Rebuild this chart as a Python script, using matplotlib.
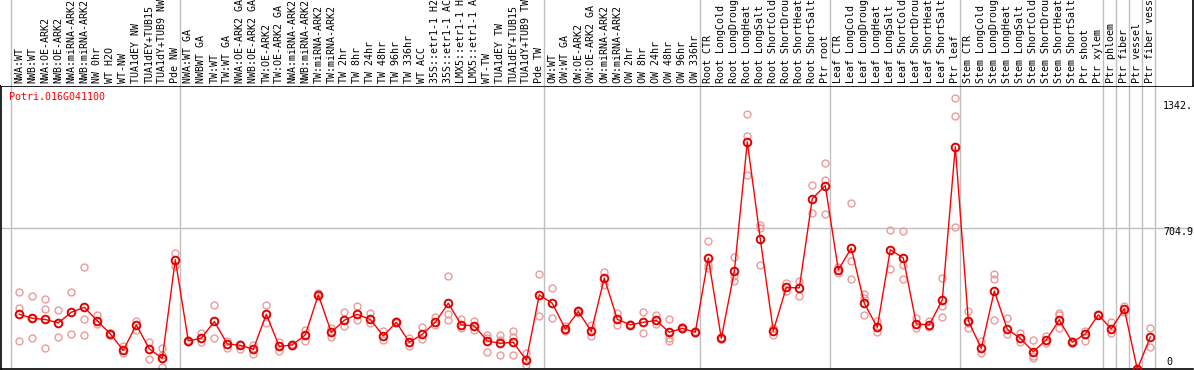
import matplotlib
matplotlib.use('Agg')
import matplotlib.pyplot as plt

GENE = "Potri.016G041100"

LABELS = [
    "NWA:WT", "NWB:WT", "NWA:OE-ARK2", "NWB:OE-ARK2", "NWA:miRNA-ARK2", "NWB:miRNA-ARK2",
    "NW 0hr", "WT H2O", "WT-NW", "TUA1dEY NW", "TUA1dEY+TUB15", "TUA1dY+TUB9 NW", "Pde NW",
    "NWA:WT GA", "NWBWT GA", "TW:WT", "TW:WT GA", "NWA:OE-ARK2 GA", "NWB:OE-ARK2 GA",
    "TW:OE-ARK2", "TW:OE-ARK2 GA", "NWA:miRNA-ARK2", "NWB:miRNA-ARK2", "TW:miRNA-ARK2",
    "TW:miRNA-ARK2", "TW 2hr", "TW 8hr", "TW 24hr", "TW 48hr", "TW 96hr", "TW 336hr",
    "WT ACC", "35S::etr1-1 H2", "35S::etr1-1 AC", "LMX5::etr1-1 H", "LMX5::etr1-1 A",
    "WT-TW", "TUA1dEY TW", "TUA1dEY+TUB15", "TUA1dY+TUB9 TW", "Pde TW",
    "OW:WT", "OW:WT GA", "OW:OE-ARK2", "OW:OE-ARK2 GA", "OW:miRNA-ARK2", "OW:miRNA-ARK2",
    "OW 2hr", "OW 8hr", "OW 24hr", "OW 48hr", "OW 96hr", "OW 336hr",
    "Root CTR", "Root LongCold", "Root LongDroug", "Root LongHeat", "Root LongSalt",
    "Root ShortCold", "Root ShortDrou", "Root ShortHeat", "Root ShortSalt", "Ptr root",
    "Leaf CTR", "Leaf LongCold", "Leaf LongDroug", "Leaf LongHeat", "Leaf LongSalt",
    "Leaf ShortCold", "Leaf ShortDrou", "Leaf ShortHeat", "Leaf ShortSalt", "Ptr leaf",
    "Stem CTR", "Stem LongCold", "Stem LongDroug", "Stem LongHeat", "Stem LongSalt",
    "Stem ShortCold", "Stem ShortDrou", "Stem ShortHeat", "Stem ShortSalt", "Ptr shoot",
    "Ptr xylem", "Ptr phloem", "Ptr fiber", "Ptr vessel", "Ptr fiber vess",
]

MEANS = [
    275, 255, 249, 232, 285, 310, 242, 177, 95, 222, 102, 55, 548,
    142, 155, 239, 127, 120, 100, 275, 114, 122, 172, 372, 185, 245, 275, 249,
    167, 235, 135, 175, 235, 330, 222, 217, 142, 130, 135, 45, 372,
    330, 202, 289, 189, 456, 250, 222, 235, 244, 185, 205, 185,
    556, 155, 489, 1137, 651, 192, 409, 407, 853, 918,
    497, 606, 330, 210, 598, 556, 227, 222, 347, 1112,
    242, 105, 391, 200, 155, 88, 147, 247, 135, 177,
    272, 202, 302, 0, 162,
]

REPLICATES = [
    [386, 307, 140], [366, 255, 155], [352, 302, 105], [295, 162], [386, 177],
    [511, 250, 172], [269, 225], [180, 172], [114, 80], [239, 197], [134, 50],
    [105, 72, 13], [581, 514],
    [148, 136], [180, 135], [322, 155], [139, 108], [125, 100], [122, 78], [322, 229],
    [135, 93], [125, 118], [197, 139], [381, 364], [205, 162], [285, 215], [315, 247],
    [282, 229], [189, 147], [240, 230], [155, 114], [212, 152], [259, 219],
    [466, 275, 245], [250, 205], [239, 197], [172, 155, 85], [169, 147, 70],
    [189, 160, 70], [80, 22], [476, 267],
    [406, 255], [189, 214], [297, 280], [219, 164], [484, 422], [280, 222], [225, 219],
    [285, 180], [272, 225], [250, 155, 139], [209, 202], [189, 180],
    [643, 523, 506], [159, 152], [561, 464, 442], [1277, 1165, 973], [723, 706, 523],
    [205, 169], [429, 389], [442, 366], [923, 781], [1032, 948, 776],
    [509, 481], [831, 539, 451], [376, 356, 272], [239, 185], [696, 501],
    [693, 523, 452], [255, 205], [239, 209], [456, 314, 260], [1357, 1267, 711],
    [292, 229, 205], [139, 80], [476, 451, 247], [255, 175], [180, 134],
    [145, 68, 55], [164, 129], [280, 272, 205], [139, 130], [189, 139],
    [275, 269], [235, 180], [285, 314], [0, 0], [205, 110],
]

# index of the last column in each block, a grey rule is drawn just after it
GROUP_ENDS = [-1, 12, 40, 52, 62, 72, 83, 84, 85, 86, 87]
Y_TICKS = [0, 704.9, 1342]
Y_TICK_TEXT = ["0", "704.9", "1342."]

W, H = 1194, 370
MONO = "DejaVu Sans Mono"
GRID = "#c0c0c0"

fig = plt.figure(figsize=(W / 100, H / 100), dpi=100)
left, right = 1 / W, 1193 / W
plot_top, plot_bot = 86 / H, 369.3 / H
ax = fig.add_axes([left, 1 - plot_bot, right - left, plot_bot - plot_top])
head = fig.add_axes([left, 1 - plot_top, right - left, plot_top])

xlim = ((1 - 19.3) / 13.0, (1193 - 19.3) / 13.0)
for a in (ax, head):
    a.set_xlim(*xlim)
    for g in GROUP_ENDS:
        a.axvline(g + 5 / 13.0, color=GRID, lw=1, zorder=0)
ax.set_ylim(0, 1416)
head.set_ylim(0, 1)

ax.axhline(Y_TICKS[1], color=GRID, lw=1, zorder=0)

x = list(range(len(LABELS)))
for i, reps in enumerate(REPLICATES):
    ax.plot([i] * len(reps), reps, linestyle='none', marker='o', markersize=5,
            markerfacecolor='none', markeredgecolor='#eb9a9a', markeredgewidth=1,
            clip_on=True, zorder=2)
ax.plot(x, MEANS, color='#ff0000', lw=1, marker='o', markersize=5.5,
        markerfacecolor='none', markeredgecolor='#e00000', markeredgewidth=1.4, zorder=3)

for i, lab in enumerate(LABELS):
    head.text(i, 0.03, lab, rotation=90, ha='center', va='bottom', fontsize=7.2,
              family=MONO, color='black')

# gene id in the top-left corner of the plot (pixel coords from bottom-left)
ax.text(9.3, H - 97, GENE, transform=None, fontsize=7.2, family=MONO, color='red', va='center')
ax.text(-1.408 + 1162 / 13.0, Y_TICKS[2], Y_TICK_TEXT[2], fontsize=7.2, family=MONO, va='top')
ax.text(-1.408 + 1162 / 13.0, Y_TICKS[1] + 4, Y_TICK_TEXT[1], fontsize=7.2, family=MONO, va='top')
ax.text(-1.408 + 1165 / 13.0, 12, Y_TICK_TEXT[0], fontsize=7.2, family=MONO, va='bottom')

ax.set_xticks([])
ax.set_yticks([])
for s in ('left', 'top', 'bottom'):
    ax.spines[s].set_linewidth(1.2)
ax.spines['right'].set_visible(False)

head.set_xticks([])
head.set_yticks([])
for s in head.spines.values():
    s.set_visible(False)
head.spines['right'].set_visible(True)
head.spines['right'].set_linewidth(1.2)

fig.savefig('out.png', dpi=100)
